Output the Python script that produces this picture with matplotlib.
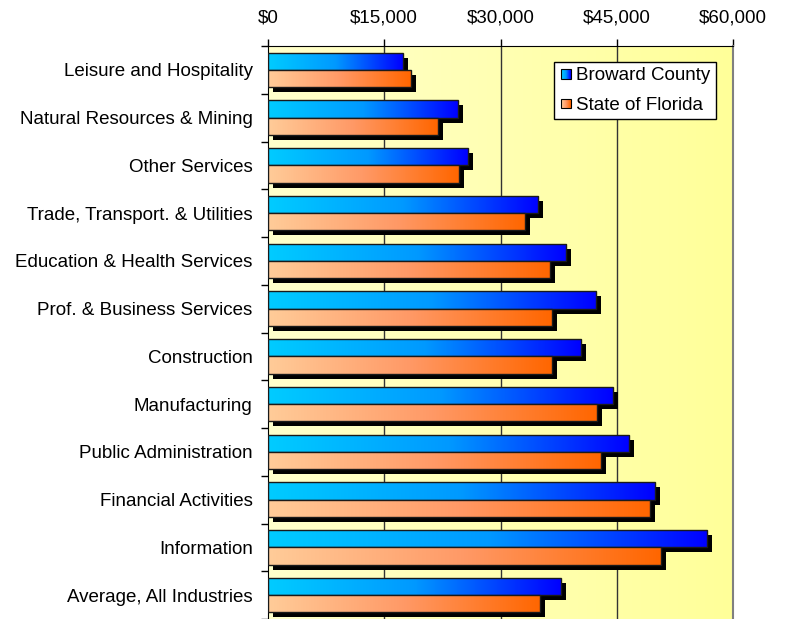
import numpy as np
import matplotlib.pyplot as plt
from matplotlib.colors import LinearSegmentedColormap
from matplotlib.patches import Rectangle
from matplotlib.legend_handler import HandlerBase
from matplotlib.transforms import offset_copy

plt.rcParams['font.family'] = ['Liberation Sans', 'DejaVu Sans']

# data (average annual wage by industry)
industries = ['Leisure and Hospitality', 'Natural Resources & Mining', 'Other Services',
              'Trade, Transport. & Utilities', 'Education & Health Services',
              'Prof. & Business Services', 'Construction', 'Manufacturing',
              'Public Administration', 'Financial Activities', 'Information',
              'Average, All Industries']
broward = [17400, 24500, 25800, 34900, 38500, 42300, 40400, 44500, 46600, 49900, 56700, 37800]
florida = [18400, 21900, 24600, 33200, 36400, 36600, 36600, 42400, 43000, 49300, 50700, 35100]
xticks = [0, 15000, 30000, 45000, 60000]
xticklabels = ['$0', '$15,000', '$30,000', '$45,000', '$60,000']

blue_cmap = LinearSegmentedColormap.from_list('b', ['#00ccff', '#0099ff', '#0000ff'])
orange_cmap = LinearSegmentedColormap.from_list('o', ['#ffcc99', '#ff9966', '#ff6600'])
bg_cmap = LinearSegmentedColormap.from_list('bg', ['#ffffcc', '#ffff99'])
grad = np.linspace(0, 1, 256).reshape(1, -1)
fs = 13.5

fig = plt.figure(figsize=(7.85, 6.19), dpi=100)
ax = fig.add_axes([268 / 785, 0.0, 465 / 785, 1 - 46 / 619])

y = np.arange(len(industries))
h = 0.36
ylim = (len(industries) - 0.5, -0.5)

# background gradient
ax.imshow(grad, cmap=bg_cmap, extent=[0, 60000, ylim[0], ylim[1]], aspect='auto', zorder=0)

shadow_tr = offset_copy(ax.transData, fig=fig, x=5, y=-5, units='dots')


def grad_bars(vals, ypos, cmap, z):
    ax.barh(ypos, vals, height=h, color='black', transform=shadow_tr, zorder=z)
    bars = ax.barh(ypos, vals, height=h, facecolor='none', edgecolor='#1a1a1a',
                   linewidth=1.0, zorder=z + 2)
    for b in bars:
        x0, yb, w, hh = b.get_x(), b.get_y(), b.get_width(), b.get_height()
        im = ax.imshow(grad, cmap=cmap, extent=[x0, x0 + w, yb + hh, yb],
                       aspect='auto', zorder=z + 1)
        im.set_clip_path(b)


grad_bars(broward, y - h / 2, blue_cmap, 2)
grad_bars(florida, y + h / 2, orange_cmap, 5)

for gx in xticks[1:4]:
    ax.axvline(gx, color='#333333', lw=1.0, zorder=1)

ax.set_xlim(0, 60000)
ax.set_ylim(*ylim)
ax.xaxis.tick_top()
ax.set_xticks(xticks)
ax.set_xticklabels(xticklabels, fontsize=fs)
ax.tick_params(axis='x', direction='out', length=5, pad=9, width=1)
ax.set_yticks(y)
ax.set_yticklabels(industries, fontsize=fs)
ax.set_yticks(np.arange(len(industries) + 1) - 0.5, minor=True)
ax.tick_params(axis='y', which='major', length=0, pad=11)
ax.tick_params(axis='y', which='minor', length=5, width=1, direction='out')
ax.spines['bottom'].set_visible(False)
ax.spines['right'].set_color('#808080')
ax.spines['right'].set_linewidth(1.5)


class GradHandler(HandlerBase):
    def __init__(self, cmap):
        super().__init__()
        self.cmap = cmap

    def create_artists(self, legend, orig_handle, xdescent, ydescent, width, height, fontsize, trans):
        s = height * 0.72
        x0 = width - s
        y0 = (height - s) / 2 - ydescent
        n = 10
        arts = []
        for i in range(n):
            arts.append(Rectangle((x0 + i * s / n, y0), s / n + 0.3, s,
                                  facecolor=self.cmap(i / (n - 1)), edgecolor='none', transform=trans))
        arts.append(Rectangle((x0, y0), s, s, facecolor='none', edgecolor='black',
                              lw=0.8, transform=trans))
        return arts


hb = Rectangle((0, 0), 1, 1)
ho = Rectangle((0, 0), 1, 1)
leg = ax.legend([hb, ho], ['Broward County', 'State of Florida'],
                handler_map={hb: GradHandler(blue_cmap), ho: GradHandler(orange_cmap)},
                loc='upper right', bbox_to_anchor=(0.9634, 0.972), fontsize=fs,
                fancybox=False, framealpha=1, edgecolor='black', handlelength=0.6,
                handletextpad=0.3, borderpad=0.28, labelspacing=0.66, borderaxespad=0)
leg.get_frame().set_linewidth(1.0)
leg.set_zorder(10)

fig.savefig('out.png', dpi=100)
